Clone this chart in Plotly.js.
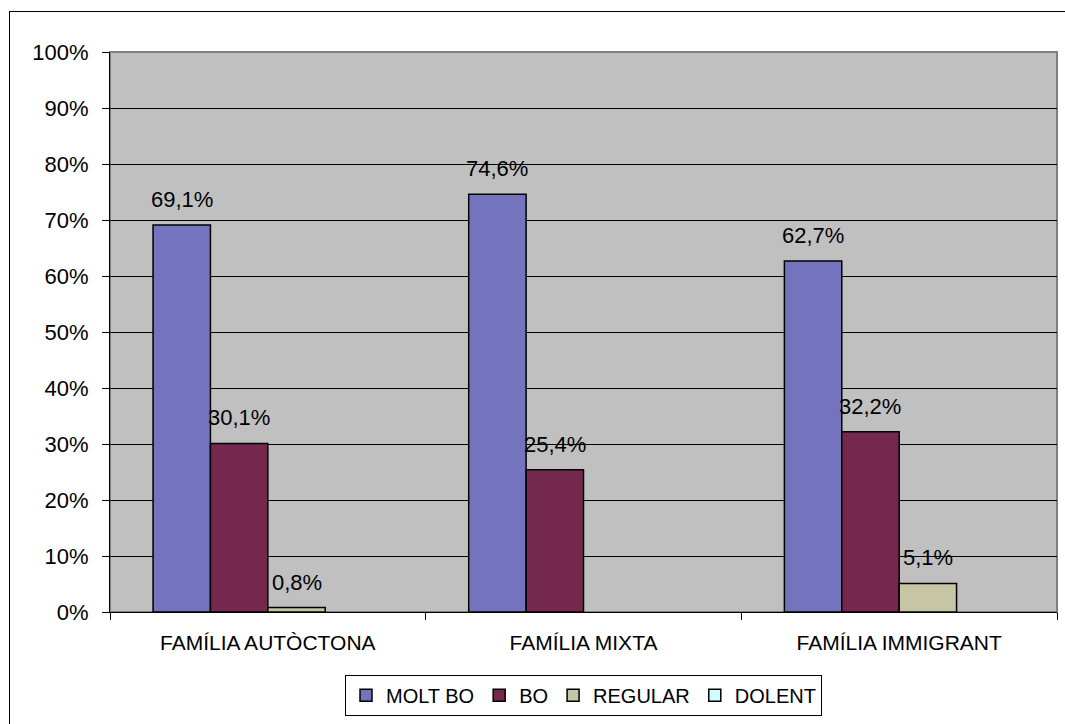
<!DOCTYPE html>
<html>
<head>
<meta charset="utf-8">
<script src="https://cdn.plot.ly/plotly-3.0.1.min.js"></script>
<style>
  html, body { margin: 0; padding: 0; background: #fff; overflow: hidden; }
  #wrap { position: relative; width: 1065px; height: 724px; }
  #chart { position: absolute; left: 0; top: 0; width: 1065px; height: 724px; }
  #frame { position: absolute; left: 9px; top: 11px; width: 1100px; height: 800px;
           border: 1px solid #000; pointer-events: none; box-sizing: border-box; }
</style>
</head>
<body>
<div id="wrap">
  <div id="chart"></div>
  <div id="frame"></div>
</div>
<script>
// ---- data ----
const categories = ["FAMÍLIA AUTÒCTONA", "FAMÍLIA MIXTA", "FAMÍLIA IMMIGRANT"];
const seriesNames = ["MOLT BO", "BO", "REGULAR", "DOLENT"];
const moltBo  = [0.691, 0.746, 0.627];
const bo      = [0.301, 0.254, 0.322];
const regular = [0.008, null, 0.051];
const dolent  = [null, null, null];
const yTickVals  = [0, 0.1, 0.2, 0.3, 0.4, 0.5, 0.6, 0.7, 0.8, 0.9, 1.0];
const yTickTexts = ["0%", "10%", "20%", "30%", "40%", "50%", "60%", "70%", "80%", "90%", "100%"];

// ---- styling ----
const seriesValues = [moltBo, bo, regular, dolent];
const fills = ["#7373BE", "#74284E", "#C6C6A4", "#CCFFFF"];
const FONT = "Liberation Sans, Arial, sans-serif";

const W = 1065, H = 724;
const margin = { l: 110, r: 8, t: 52, b: 109 };
const plotW = W - margin.l - margin.r;
const barPx = plotW / categories.length / 5.5;

const traces = seriesValues.map((vals, i) => ({
  type: "bar",
  name: seriesNames[i],
  x: categories,
  y: vals,
  marker: { color: fills[i], line: { color: "#000", width: 1.5 } },
  hoverinfo: "skip"
}));

const annotations = [];
seriesValues.forEach((vals, i) => {
  vals.forEach((v, j) => {
    if (v === null || v === undefined) return;
    annotations.push({
      x: categories[j], y: v, xref: "x", yref: "y",
      text: (v * 100).toFixed(1).replace(".", ",") + "%",
      showarrow: false, yanchor: "bottom",
      xshift: (i - 1.5) * barPx, yshift: 11,
      font: { family: FONT, size: 22, color: "#000" }
    });
  });
});

const layout = {
  width: W, height: H,
  margin: margin,
  paper_bgcolor: "#fff",
  plot_bgcolor: "#C0C0C0",
  font: { family: FONT, size: 21, color: "#000" },
  barmode: "group",
  bargap: 1.5 / 5.5,
  bargroupgap: 0,
  showlegend: true,
  legend: {
    orientation: "h", x: 0.5, xanchor: "center", y: -0.112, yanchor: "top",
    bordercolor: "#000", borderwidth: 1, bgcolor: "#fff",
    font: { family: FONT, size: 20, color: "#000" },
    traceorder: "normal", itemwidth: 30, tracegroupgap: 0
  },
  xaxis: {
    type: "category",
    showline: true, linecolor: "#000", linewidth: 1,
    ticks: "outside", tickson: "boundaries", ticklen: 7, tickcolor: "#000",
    showgrid: false, zeroline: false,
    ticklabelstandoff: 12,
    tickfont: { family: FONT, size: 21, color: "#000" }
  },
  yaxis: {
    range: [0, 1],
    tickvals: yTickVals, ticktext: yTickTexts,
    showline: true, linecolor: "#000", linewidth: 1,
    ticks: "outside", ticklen: 7, tickcolor: "#000",
    showgrid: true, gridcolor: "#000", gridwidth: 1,
    zeroline: false,
    ticklabelstandoff: 9,
    tickfont: { family: FONT, size: 22, color: "#000" }
  },
  shapes: [{
    type: "rect", xref: "paper", yref: "paper", x0: 0, x1: 1, y0: 0, y1: 1,
    line: { color: "#808080", width: 2 }, fillcolor: "rgba(0,0,0,0)", layer: "below"
  }],
  annotations: annotations
};

Plotly.newPlot("chart", traces, layout, { displayModeBar: false, staticPlot: true });
</script>
</body>
</html>
